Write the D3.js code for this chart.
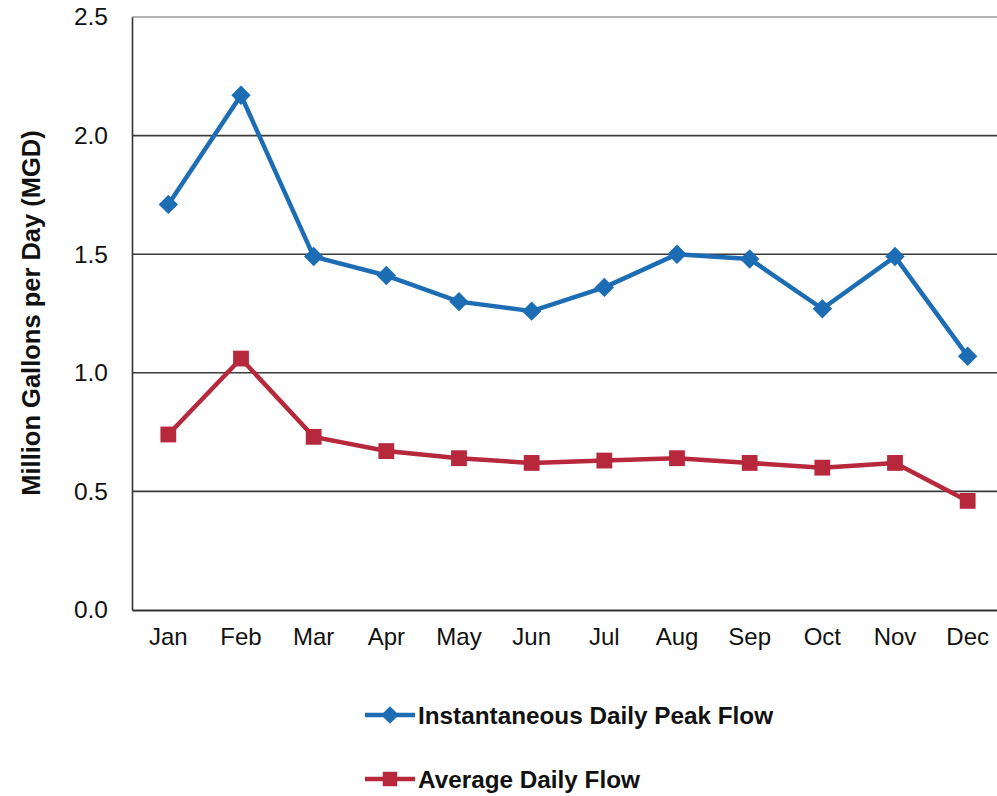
<!DOCTYPE html>
<html>
<head>
<meta charset="utf-8">
<script src="https://cdn.jsdelivr.net/npm/d3@7"></script>
<style>
  html, body { margin: 0; padding: 0; background: #fff; }
  svg { display: block; font-family: "Liberation Sans", Arial, sans-serif; }
</style>
</head>
<body>
<svg id="chart" width="997" height="796"></svg>
<script>
// Monthly flow, million gallons per day
const months = ["Jan", "Feb", "Mar", "Apr", "May", "Jun", "Jul", "Aug", "Sep", "Oct", "Nov", "Dec"];
const peakFlow = [1.71, 2.17, 1.49, 1.41, 1.30, 1.26, 1.36, 1.50, 1.48, 1.27, 1.49, 1.07];
const avgFlow = [0.74, 1.06, 0.73, 0.67, 0.64, 0.62, 0.63, 0.64, 0.62, 0.60, 0.62, 0.46];
const yTicks = [0.0, 0.5, 1.0, 1.5, 2.0, 2.5];
const seriesNames = ["Instantaneous Daily Peak Flow", "Average Daily Flow"];

const blue = "#1d6db5";
const red = "#b7283d";

const svg = d3.select("#chart");
const plot = { left: 132, right: 1004, top: 17, bottom: 610 };

const x = d3.scaleBand().domain(months).range([plot.left, plot.right]);
const y = d3.scaleLinear().domain([0, 2.5]).range([plot.bottom, plot.top]);

// horizontal gridlines
svg.append("g")
  .selectAll("line")
  .data(yTicks.filter(d => d > 0))
  .join("line")
  .attr("x1", plot.left).attr("x2", plot.right)
  .attr("y1", d => y(d)).attr("y2", d => y(d))
  .attr("stroke", d => d === 2.5 ? "#9a9a9a" : "#3a3a3a")
  .attr("stroke-width", 1.6);

// y axis
const yAxis = svg.append("g")
  .attr("transform", `translate(${plot.left},0)`)
  .call(d3.axisLeft(y).tickValues(yTicks).tickFormat(d3.format(".1f")).tickSize(0).tickPadding(24));
yAxis.select(".domain").attr("stroke", "#333").attr("stroke-width", 1.6);
yAxis.selectAll("text").attr("font-size", 24.5).attr("fill", "#111")
  .attr("font-family", "'Liberation Sans', Arial, sans-serif");

// x axis
const xAxis = svg.append("g")
  .attr("transform", `translate(0,${plot.bottom})`)
  .call(d3.axisBottom(x).tickSize(0).tickPadding(18));
xAxis.select(".domain").attr("stroke", "#333").attr("stroke-width", 1.8);
xAxis.selectAll("text").attr("font-size", 24).attr("fill", "#111")
  .attr("font-family", "'Liberation Sans', Arial, sans-serif");

// y axis title
svg.append("text")
  .attr("transform", `translate(40,313) rotate(-90)`)
  .attr("text-anchor", "middle")
  .attr("font-size", 25.5)
  .attr("font-weight", "bold")
  .attr("fill", "#111")
  .text("Million Gallons per Day (MGD)");

const cx = d => x(d) + x.bandwidth() / 2;

const line = d3.line()
  .x((d, i) => cx(months[i]))
  .y(d => y(d));

const diamond = d3.symbol().type(d3.symbolDiamond2).size(240);
const square = d3.symbol().type(d3.symbolSquare).size(250);

function drawSeries(values, color, symbol) {
  const g = svg.append("g");
  g.append("path")
    .datum(values)
    .attr("d", line)
    .attr("fill", "none")
    .attr("stroke", color)
    .attr("stroke-width", 4.5)
    .attr("stroke-linejoin", "round");
  g.selectAll("path.m")
    .data(values)
    .join("path")
    .attr("class", "m")
    .attr("transform", (d, i) => `translate(${cx(months[i])},${y(d)})`)
    .attr("d", symbol)
    .attr("fill", color);
}

drawSeries(avgFlow, red, square);
drawSeries(peakFlow, blue, diamond);

// legend
const legendDiamond = d3.symbol().type(d3.symbolDiamond2).size(200);
const legendSquare = d3.symbol().type(d3.symbolSquare).size(210);
const legend = [
  { name: seriesNames[0], color: blue, symbol: legendDiamond, y: 715 },
  { name: seriesNames[1], color: red, symbol: legendSquare, y: 779 }
];
const lg = svg.append("g").selectAll("g").data(legend).join("g")
  .attr("transform", d => `translate(0,${d.y})`);
lg.append("line")
  .attr("x1", 365).attr("x2", 415).attr("y1", 0).attr("y2", 0)
  .attr("stroke", d => d.color).attr("stroke-width", 4.5);
lg.append("path")
  .attr("transform", "translate(390,0)")
  .attr("d", d => d.symbol())
  .attr("fill", d => d.color);
lg.append("text")
  .attr("x", 418).attr("y", 0).attr("dy", "0.35em")
  .attr("font-size", 24.3).attr("font-weight", "bold").attr("fill", "#111")
  .text(d => d.name);
</script>
</body>
</html>
